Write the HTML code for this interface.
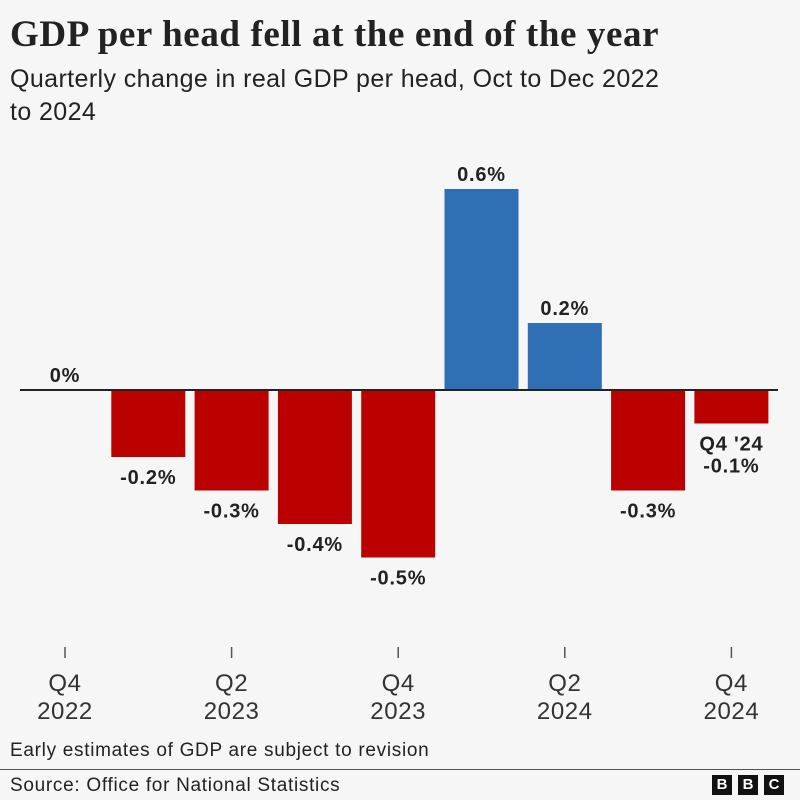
<!DOCTYPE html>
<html><head><meta charset="utf-8"><style>
body{margin:0;background:#f6f6f6;}
#c{position:relative;width:800px;height:800px;background:#f6f6f6;font-family:"Liberation Sans",sans-serif;color:#222;overflow:hidden}
.t{position:absolute;left:10px;top:13px;font-family:"Liberation Serif",serif;font-weight:bold;font-size:37px;letter-spacing:0.6px;white-space:nowrap}
.s{position:absolute;left:10px;top:63px;font-size:25px;line-height:33px;width:700px;letter-spacing:0.4px}
.n{position:absolute;left:10px;top:740px;font-size:19px;letter-spacing:0.7px}
.src{position:absolute;left:10px;top:775px;font-size:19px;letter-spacing:0.7px}
.hr{position:absolute;left:0;top:769px;width:800px;height:1px;background:#555}
.logo{position:absolute;top:775px;width:20px;height:20px;background:#111;color:#fff;font-weight:bold;font-size:15px;text-align:center;line-height:20px}
</style></head><body>
<div id="c">
<div class="t">GDP per head fell at the end of the year</div>
<div class="s">Quarterly change in real GDP per head, Oct to Dec 2022<br>to 2024</div>
<svg id="svg" width="800" height="800" style="position:absolute;left:0;top:0"></svg>
<div class="n">Early estimates of GDP are subject to revision</div>
<div class="hr"></div>
<div class="src">Source: Office for National Statistics</div>
<div class="logo" style="left:712px">B</div>
<div class="logo" style="left:738px">B</div>
<div class="logo" style="left:764px">C</div>
</div>
<script>
const categories=["Q4 2022","Q1 2023","Q2 2023","Q3 2023","Q4 2023","Q1 2024","Q2 2024","Q3 2024","Q4 2024"];
const values=[0,-0.2,-0.3,-0.4,-0.5,0.6,0.2,-0.3,-0.1];
const valueLabels=["0%","-0.2%","-0.3%","-0.4%","-0.5%","0.6%","0.2%","-0.3%","-0.1%"];
const tickIdx=[0,2,4,6,8];
const tickTop=["Q4","Q2","Q4","Q2","Q4"];
const tickBot=["2022","2023","2023","2024","2024"];
const NS="http://www.w3.org/2000/svg",svg=document.getElementById('svg');
const y0=390,k=335;
const y=v=>y0-v*k;
const step=83.3,bw=74,x0=28;
const x=i=>x0+i*step;
function mk(t,a){const e=document.createElementNS(NS,t);for(const q in a)e.setAttribute(q,a[q]);svg.appendChild(e);return e;}
values.forEach((v,i)=>{
  const r=mk('rect',{x:x(i),y:Math.min(y(v),y0),width:bw,height:Math.abs(y(v)-y0),fill:v>=0?'#2f6fb5':'#bb0000'});
  
  
  const cx=x(i)+bw/2;
  let ly=v>=0?y(v)-8:y(v)+27;
  if(i===8){
    const q=mk('text',{x:cx,y:ly,'text-anchor':'middle','font-size':20,'font-weight':'bold',fill:'#222','letter-spacing':0.8});
    q.textContent="Q4 '24";
    
    
    ly+=22;
  }
  const t=mk('text',{x:cx,y:ly,'text-anchor':'middle','font-size':20,'font-weight':'bold',fill:'#222','letter-spacing':0.8});
  t.textContent=valueLabels[i];
  
  
});
const bl=mk('line',{x1:20,x2:778,y1:y0,y2:y0,stroke:'#222','stroke-width':2});


tickIdx.forEach((ix,j)=>{
  const cx=x(ix)+bw/2;
  const l=mk('line',{x1:cx,x2:cx,y1:647,y2:658,stroke:'#555','stroke-width':1.5});
  
  
  const a=mk('text',{x:cx,y:691,'text-anchor':'middle','font-size':24,fill:'#333','letter-spacing':0.6});
  a.textContent=tickTop[j];
  
  
  const b=mk('text',{x:cx,y:719,'text-anchor':'middle','font-size':24,fill:'#333','letter-spacing':0.6});
  b.textContent=tickBot[j];
  
  
});
</script>
</body></html>
